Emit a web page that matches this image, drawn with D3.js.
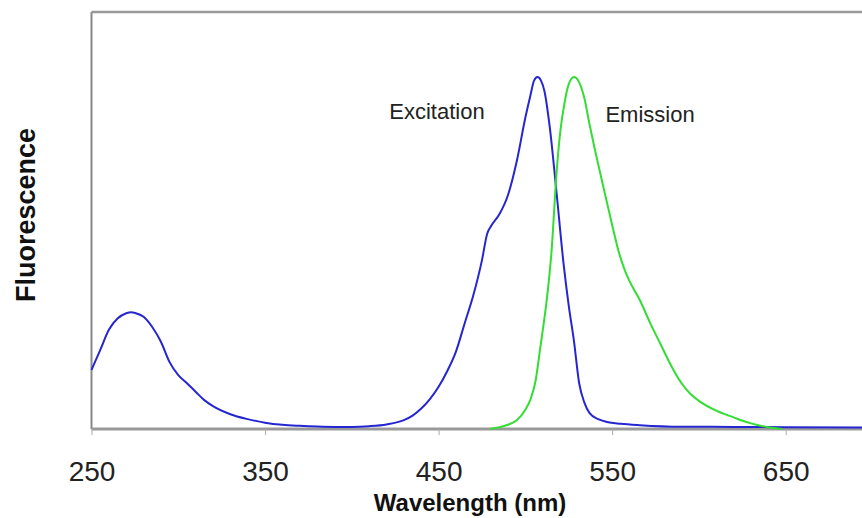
<!DOCTYPE html>
<html>
<head>
<meta charset="utf-8">
<script src="https://cdn.jsdelivr.net/npm/d3@7"></script>
<style>
  body { margin: 0; background: #fff; }
  svg { display: block; font-family: "Liberation Sans", Arial, sans-serif; }
</style>
</head>
<body>
<div id="chart"></div>
<script>
// wavelength (nm) and relative fluorescence (% of peak)
const excitationNm = [250, 255, 260, 265, 270, 273, 275, 280, 285, 290, 295, 300, 305, 310, 315, 320, 330, 340, 350, 360, 370, 380, 390, 400, 410, 420, 430, 435, 440, 445, 450, 455, 460, 465, 470, 475, 478, 480, 485, 490, 495, 500, 503, 505, 507, 509, 511, 514, 518, 522, 525, 528, 531, 534, 537, 542, 547, 555, 566, 590, 620, 650, 700];
const excitationVal = [16.8, 22.4, 28.2, 31.4, 32.9, 33.2, 33.0, 31.9, 29.0, 24.8, 19.0, 15.3, 13.0, 10.6, 8.2, 6.5, 4.2, 2.8, 1.8, 1.2, 0.9, 0.7, 0.6, 0.6, 0.8, 1.3, 2.5, 3.8, 5.8, 8.5, 12.0, 16.5, 22.0, 30.0, 38.0, 48.0, 55.5, 57.5, 61.0, 66.5, 76.0, 88.5, 95.0, 99.0, 100, 99.0, 96.0, 86.0, 67.0, 47.0, 35.0, 25.0, 13.0, 7.5, 4.5, 2.8, 2.0, 1.5, 1.1, 0.65, 0.6, 0.5, 0.4];

const emissionNm = [479.5, 485, 490, 495, 500, 503, 506, 508.4, 510, 512.3, 515, 518, 520, 522, 525, 528, 531, 534, 537, 540, 543, 546, 550, 554, 557, 560, 566, 572, 578, 584, 590, 595, 600, 610, 620, 630, 640, 648];
const emissionVal = [0, 0.5, 1.2, 2.5, 5.5, 8.5, 14.0, 22.4, 28.0, 36.6, 50.0, 73.0, 84.0, 91.0, 98.0, 100, 98.5, 94.0, 86.5, 79.5, 73.0, 66.5, 58.0, 50.0, 45.5, 42.0, 36.6, 30.0, 24.0, 18.0, 13.0, 10.0, 8.0, 5.2, 3.3, 1.6, 0.5, 0];

const xTicks = [250, 350, 450, 550, 650];
const xLabel = "Wavelength (nm)";
const yLabel = "Fluorescence";
const seriesLabels = ["Excitation", "Emission"];

const width = 862, height = 518;
const plotLeft = 91.5, plotTop = 12, plotBottom = 429;

const svg = d3.select("#chart").append("svg")
  .attr("width", width)
  .attr("height", height);

const x = d3.scaleLinear().domain([250, 700]).range([plotLeft, plotLeft + 450 * 1.7355]);
const y = d3.scaleLinear().domain([0, 118.5]).range([plotBottom, plotTop]);

// frame: top and left lines
svg.append("line")
  .attr("x1", plotLeft).attr("x2", width).attr("y1", plotTop).attr("y2", plotTop)
  .attr("stroke", "#999").attr("stroke-width", 2.5);
svg.append("line")
  .attr("x1", plotLeft).attr("x2", plotLeft).attr("y1", plotTop).attr("y2", plotBottom)
  .attr("stroke", "#888").attr("stroke-width", 2);

// x axis
const xAxis = svg.append("g")
  .attr("transform", `translate(0,${plotBottom})`)
  .call(d3.axisBottom(x).tickValues(xTicks).tickSize(6).tickPadding(26).tickFormat(d3.format("d")));
xAxis.select(".domain").attr("stroke", "#999").attr("stroke-width", 3)
  .attr("d", `M${plotLeft},0H${width}`);
xAxis.selectAll(".tick line").attr("stroke", "#aaa").attr("stroke-width", 1);
xAxis.selectAll(".tick text")
  .attr("fill", "#222")
  .style("font-size", "28px")
  .style("font-family", "Liberation Sans, Arial, sans-serif");

const line = d3.line()
  .x(d => x(d[0]))
  .y(d => y(d[1]))
  .curve(d3.curveMonotoneX);

svg.append("path")
  .datum(d3.zip(excitationNm, excitationVal))
  .attr("d", line)
  .attr("fill", "none")
  .attr("stroke", "#2626d0")
  .attr("stroke-width", 2);

svg.append("path")
  .datum(d3.zip(emissionNm, emissionVal))
  .attr("d", line)
  .attr("fill", "none")
  .attr("stroke", "#33dd33")
  .attr("stroke-width", 2);

// series labels
svg.append("text")
  .attr("x", 437).attr("y", 119)
  .attr("text-anchor", "middle")
  .attr("fill", "#222")
  .style("font-size", "22px")
  .text(seriesLabels[0]);
svg.append("text")
  .attr("x", 650).attr("y", 122)
  .attr("text-anchor", "middle")
  .attr("fill", "#222")
  .style("font-size", "22px")
  .text(seriesLabels[1]);

// axis titles
svg.append("text")
  .attr("x", 470).attr("y", 511)
  .attr("text-anchor", "middle")
  .attr("fill", "#111")
  .style("font-size", "24px")
  .style("font-weight", "bold")
  .text(xLabel);
svg.append("text")
  .attr("transform", "translate(35,215) rotate(-90)")
  .attr("text-anchor", "middle")
  .attr("fill", "#111")
  .style("font-size", "27px")
  .style("font-weight", "bold")
  .text(yLabel);
</script>
</body>
</html>
